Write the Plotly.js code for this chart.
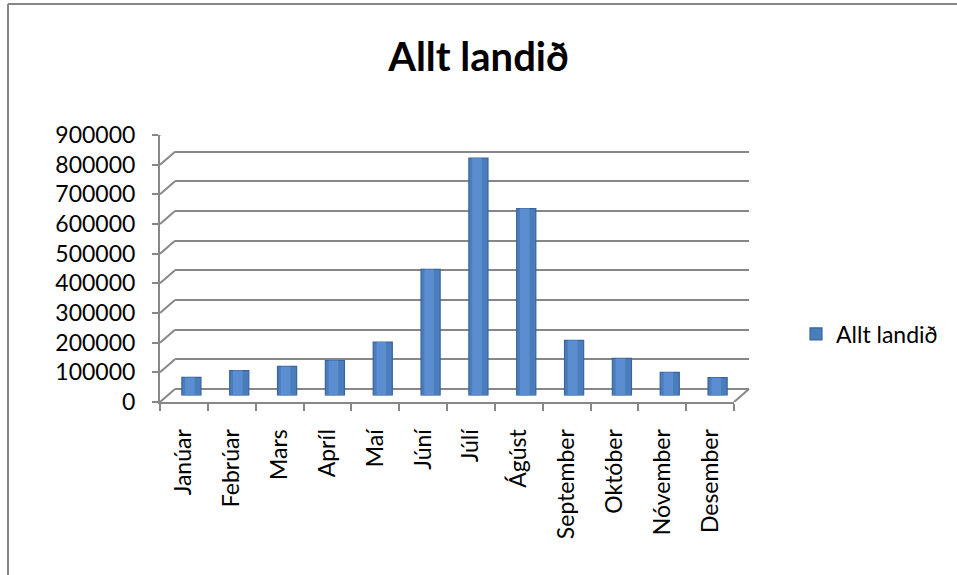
<!DOCTYPE html>
<html>
<head>
<meta charset="utf-8">
<script src="https://cdn.plot.ly/plotly-3.0.1.min.js"></script>
<style>
html,body{margin:0;padding:0;background:#fff;}
#chart{width:957px;height:575px;}
</style>
</head>
<body>
<div id="chart"></div>
<script>
// ---- data ----
var months = ['Janúar','Febrúar','Mars','Apríl','Maí','Júní','Júlí','Ágúst','September','Október','Nóvember','Desember'];
var values = [61000, 84000, 98000, 118000, 180000, 425000, 800000, 630000, 186000, 125000, 78000, 60000];
var seriesName = 'Allt landið';
var tickVals = [0,100000,200000,300000,400000,500000,600000,700000,800000,900000];
var tickText = ['0','100000','200000','300000','400000','500000','600000','700000','800000','900000'];

// ---- layout geometry (pixels) ----
var W = 957, H = 575;
function px(x){ return x / W; }
function py(y){ return 1 - y / H; }
var gridColor = '#878787';
var font = 'Lato, "Open Sans", sans-serif';

var traces = [
  {x: months, y: months.map(function(){return null;}), type: 'scatter', mode: 'markers',
   xaxis: 'x', yaxis: 'y', showlegend: false, hoverinfo: 'skip'},
  {x: months, y: months.map(function(){return null;}), type: 'scatter', mode: 'markers',
   xaxis: 'x2', yaxis: 'y2', showlegend: false, hoverinfo: 'skip'},
  {x: months, y: values, type: 'bar', name: seriesName, xaxis: 'x3', yaxis: 'y3',
   width: 0.4, offset: -0.2,
   marker: {color: '#4A7DBB', line: {color: '#3B659A', width: 1.2}}},
  {x: months, y: values, type: 'bar', name: seriesName, xaxis: 'x3', yaxis: 'y3',
   width: 0.2, offset: -0.13, showlegend: false, hoverinfo: 'skip',
   marker: {color: '#5A8ED0', line: {width: 0}}}
];

var shapes = [];
tickVals.forEach(function(v){
  shapes.push({type: 'line', xref: 'paper', yref: 'y2', ysizemode: 'pixel', yanchor: v,
    x0: px(160), x1: px(175), y0: 0, y1: 13, line: {color: gridColor, width: 2}, layer: 'below'});
});
shapes.push({type: 'line', xref: 'paper', yref: 'y2', ysizemode: 'pixel', yanchor: 0,
  x0: px(734), x1: px(749), y0: 0, y1: 13, line: {color: gridColor, width: 2}, layer: 'below'});
// chart border (right and bottom edges lie outside the picture)
shapes.push({type: 'line', xref: 'paper', yref: 'paper', x0: px(8), x1: px(8), y0: 0, y1: py(4),
  line: {color: '#878787', width: 2}, layer: 'below'});
shapes.push({type: 'line', xref: 'paper', yref: 'paper', x0: px(8), x1: 1, y0: py(4), y1: py(4),
  line: {color: '#878787', width: 2}, layer: 'below'});

var layout = {
  width: W, height: H,
  margin: {l: 0, r: 0, t: 0, b: 0},
  paper_bgcolor: '#ffffff', plot_bgcolor: 'rgba(0,0,0,0)',
  barmode: 'overlay',
  showlegend: true,
  title: {text: '<b>Allt landið</b>', font: {family: font, size: 40, color: '#000'},
          x: 0.5, xanchor: 'center', y: py(57), yanchor: 'middle'},
  xaxis: {domain: [px(175), px(749)], anchor: 'y', type: 'category', range: [-0.5, 11.5],
          showgrid: false, showline: false, showticklabels: false, ticks: '', zeroline: false, fixedrange: true},
  yaxis: {domain: [py(389), py(122)], anchor: 'x', range: [0, 900000], tickvals: tickVals,
          showgrid: true, gridcolor: gridColor, gridwidth: 2, zeroline: true, zerolinecolor: gridColor, zerolinewidth: 2,
          showline: false, showticklabels: false, ticks: '', fixedrange: true},
  xaxis2: {domain: [px(160), px(734)], anchor: 'y2', type: 'category', range: [-0.5, 11.5],
           showgrid: false, zeroline: false, showline: true, linecolor: gridColor, linewidth: 2,
           ticks: 'outside', tickson: 'boundaries', ticklen: 7, tickwidth: 2, tickcolor: gridColor,
           ticklabelstandoff: 16,
           tickangle: -90, tickfont: {family: font, size: 23, color: '#000'}, fixedrange: true},
  yaxis2: {domain: [py(402), py(135)], anchor: 'x2', range: [0, 900000],
           tickvals: tickVals, ticktext: tickText,
           showgrid: false, zeroline: false, showline: true, linecolor: gridColor, linewidth: 2,
           ticks: 'outside', ticklen: 6, tickwidth: 2, tickcolor: gridColor,
           ticklabelstandoff: 12,
           tickfont: {family: font, size: 23, color: '#000'}, fixedrange: true},
  xaxis3: {domain: [px(167.5), px(741.5)], anchor: 'y3', type: 'category', range: [-0.5, 11.5],
           visible: false, fixedrange: true},
  yaxis3: {domain: [py(395.5), py(128.5)], anchor: 'x3', range: [0, 900000], visible: false, fixedrange: true},
  legend: {x: px(796), xanchor: 'left', y: py(334), yanchor: 'middle', itemwidth: 30,
           font: {family: font, size: 23, color: '#000'}, bgcolor: 'rgba(0,0,0,0)'},
  shapes: shapes
};

Plotly.newPlot('chart', traces, layout, {displayModeBar: false, staticPlot: true});
</script>
</body>
</html>
